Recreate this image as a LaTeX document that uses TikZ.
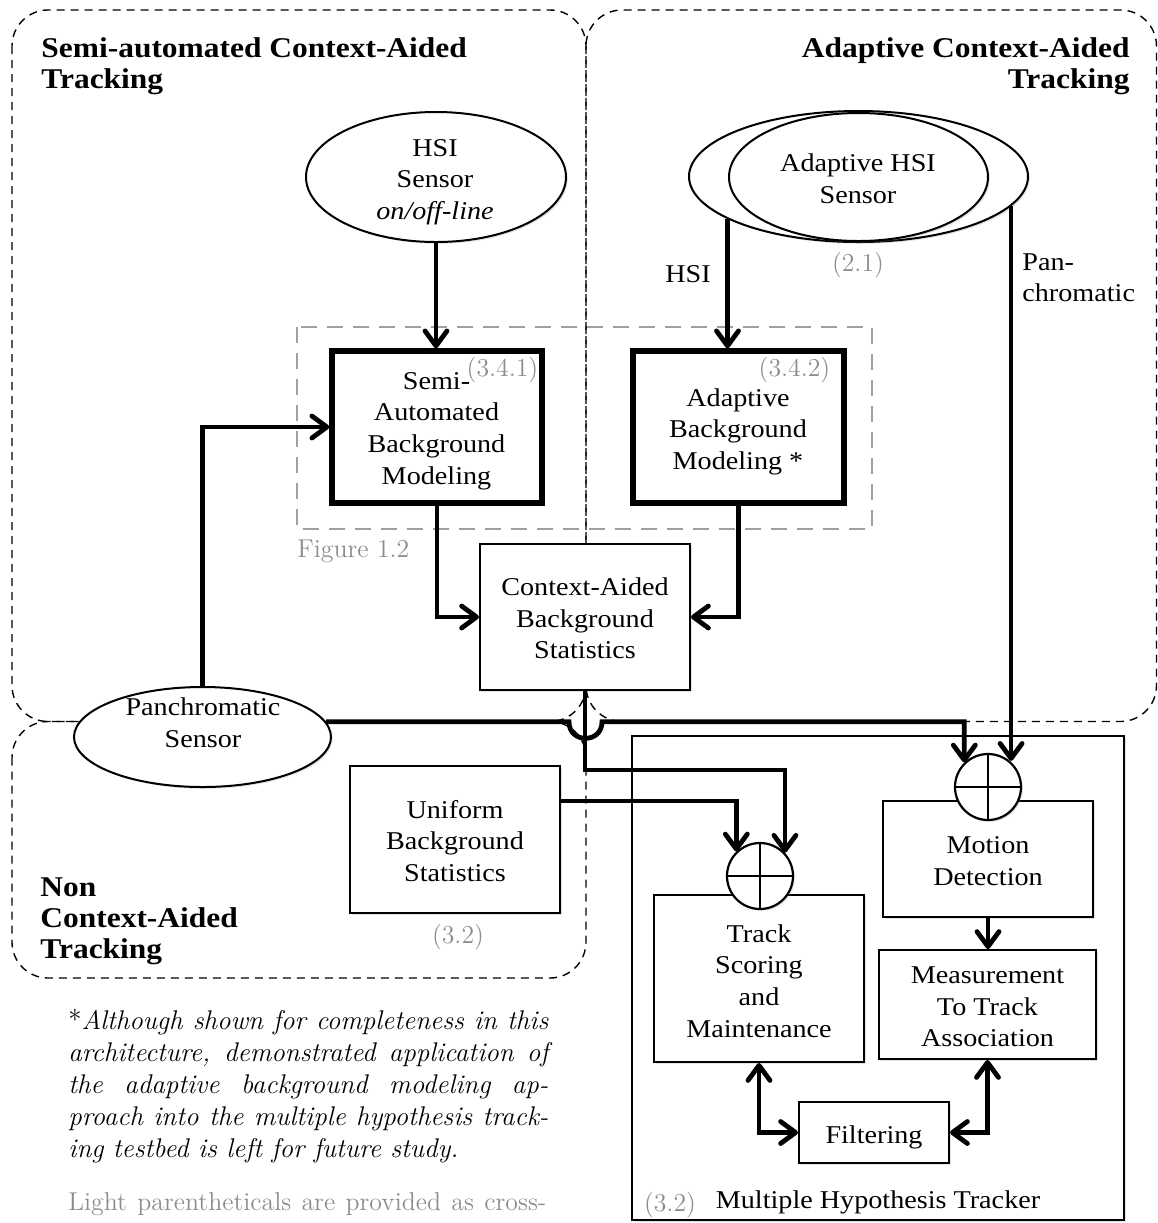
\documentclass[tikz,border=0pt]{standalone}
\usepackage{fontspec}
\newfontfamily\gf{Liberation Serif}[FakeStretch=1.1]
\usetikzlibrary{arrows.meta,shapes.geometric,shadows}
\definecolor{lg}{RGB}{140,140,140}
\definecolor{fg}{RGB}{160,160,160}
\begin{document}
\begin{tikzpicture}[x=0.5pt,y=-0.5pt,
  region/.style={draw, dash pattern=on 4pt off 3pt, line width=0.7pt, rounded corners=18pt},
  figrect/.style={draw=fg, dash pattern=on 8pt off 5pt, line width=0.6pt},
  shad/.style={drop shadow={opacity=0.22,shadow xshift=0.9pt,shadow yshift=-0.9pt}},
  boxn/.style={draw, fill=white, rectangle, line width=1pt, inner sep=0pt, shad},
  thickbox/.style={boxn, line width=2.7pt},
  ell/.style={draw, fill=white, ellipse, line width=1pt, inner sep=0pt, shad},
  sumc/.style={draw, fill=white, circle, line width=1.1pt, inner sep=0pt, minimum size=33pt, shad},
  arr/.style={line width=2.4pt, -{Straight Barb[length=7.5pt,width=11pt,round]}},
  darr/.style={line width=2.4pt, {Straight Barb[length=7.5pt,width=11pt,round]}-{Straight Barb[length=7.5pt,width=11pt,round]}},
  txt/.style={font=\gf\fontsize{12.8}{15.8}\selectfont, align=center, inner sep=0pt},
  ttl/.style={font=\gf\bfseries\fontsize{14.3}{15.6}\selectfont, inner sep=0pt},
  glab/.style={font=\fontsize{12.9}{15}\selectfont, text=lg, inner sep=0pt},
  fnote/.style={font=\itshape\fontsize{13.5}{16}\selectfont, inner sep=0pt, anchor=base west}
]
\useasboundingbox (0,0) rectangle (1158,1223);

% regions
\draw[region] (12,10) rectangle (586,721.5);
\draw[region] (586,10) rectangle (1156.5,721.5);
\draw[region] (12,721.5) rectangle (586,978);
\draw[figrect] (297,327) rectangle (872,529);

% titles
\node[ttl, align=left, anchor=north west] (t1) at (41,37.5) {Semi-automated Context-Aided\\Tracking};
\node[ttl, align=right, anchor=north east] (t2) at (1130,37.5) {Adaptive Context-Aided\\Tracking};
\node[ttl, align=left, anchor=north west] (t3) at (40,877) {Non\\Context-Aided\\Tracking};

% MHT container
\node[boxn, line width=0.7pt, minimum width=246pt, minimum height=242pt] (mht) at (878,978) {};

% ellipses
\node[ell, minimum width=130pt, minimum height=65pt] (hsi) at (436,177) {};
\node[ell, minimum width=169.5pt, minimum height=65.5pt] (aho) at (858.5,176.5) {};
\node[ell, minimum width=129.5pt, minimum height=64pt] (ahi) at (858.5,177) {};
\node[ell, minimum width=128.5pt, minimum height=50pt] (pan) at (202.5,737) {};

% boxes
\node[thickbox, minimum width=105pt, minimum height=76pt] (semi) at (437,427) {};
\node[thickbox, minimum width=105.5pt, minimum height=76pt] (adapt) at (738.5,427) {};
\node[boxn, minimum width=105pt, minimum height=73pt] (ctx) at (585,617) {};
\node[boxn, minimum width=105pt, minimum height=73.5pt] (unif) at (455,839.5) {};
\node[boxn, minimum width=105pt, minimum height=58pt] (motion) at (988,859) {};
\node[boxn, minimum width=105pt, minimum height=83.5pt] (track) at (759,978.5) {};
\node[boxn, minimum width=108.5pt, minimum height=54.5pt] (meas) at (987.5,1004.5) {};
\node[boxn, minimum width=75pt, minimum height=30.5pt] (filt) at (874,1132.5) {};

% summing circles
\node[sumc] (mc) at (988,787) {};
\node[sumc] (tc) at (760,876) {};
\draw[line width=1pt] (mc.north) -- (mc.south) (mc.west) -- (mc.east);
\draw[line width=1pt] (tc.north) -- (tc.south) (tc.west) -- (tc.east);

% helper coordinates
\coordinate (k770) at (0,770);
\coordinate (k801) at (0,801);
\coordinate (jl) at (569,0);
\coordinate (jr) at (602,0);

% connectors
\draw[arr] (hsi.south) -- (hsi.south |- semi.north);
\draw[arr] (aho.198) -- (aho.198 |- adapt.north);
\draw[arr] (aho.-11.7) -- (aho.-11.7 |- mc.50);
\draw[arr] (pan.north) |- (semi.west);
\draw[arr] (semi.south) |- (ctx.west);
\draw[arr] (adapt.south) |- (ctx.east);
\draw[arr] (pan.7) -- (pan.7 -| jl) .. controls +(0,22) and +(0,22) .. (pan.7 -| jr) -| (mc.134);
\draw[arr] (ctx.south) -- (ctx.south |- k770) -| (tc.43);
\draw[arr] (unif.east |- k801) -| (tc.134);
\draw[arr] (motion.south) -- (motion.south |- meas.north);
\draw[darr] (track.south) |- (filt.west);
\draw[darr] (meas.south) |- (filt.east);

% texts
\node[txt] (hsit) at (435,182) {HSI\\Sensor\\\textit{on/off-line}};
\node[txt] (ahst) at (858,179) {Adaptive HSI\\Sensor};
\node[txt] (pant) at (203,722.5) {Panchromatic\\Sensor};
\node[txt] (semit) at (436.5,431) {Semi-\\Automated\\Background\\Modeling};
\node[txt] (adaptt) at (738,431.5) {Adaptive\\Background\\Modeling *};
\node[txt] (ctxt) at (585,618.5) {Context-Aided\\Background\\Statistics};
\node[txt] (uniftxt) at (455,841) {Uniform\\Background\\Statistics};
\node[txt] (motiont) at (988,861) {Motion\\Detection};
\node[txt] (trackt) at (759,981) {Track\\Scoring\\and\\Maintenance};
\node[txt] (meast) at (987.5,1007) {Measurement\\To Track\\Association};
\node[txt, anchor=base] (filtt) at (874,1143) {Filtering};
\node[txt, anchor=base] (hsil) at (688,282) {HSI};
\node[txt, align=left, anchor=north west] (panl) at (1022,253) {Pan-\\chromatic};
\node[txt, anchor=base] (mhtl) at (878,1208) {Multiple Hypothesis Tracker};

% gray cross references
\node[glab, anchor=base] (g341) at (502.5,376) {(3.4.1)};
\node[glab, anchor=base] (g342) at (794.5,376) {(3.4.2)};
\node[glab, anchor=base] (g21) at (858,271) {(2.1)};
\node[glab, anchor=base west] (gfig) at (297,557) {Figure 1.2};
\node[glab, anchor=base] (g32a) at (458,943) {(3.2)};
\node[glab, anchor=base] (g32b) at (670,1211.5) {(3.2)};

% footnote
\node[fnote] (fn1) at (68,1029) {\makebox[240pt][s]{\textup{*}Although shown for completeness in this}};
\node[fnote] (fn2) at (68,1061) {\makebox[240pt][s]{architecture, demonstrated application of}};
\node[fnote] (fn3) at (68,1093) {\makebox[240pt][s]{the adaptive background modeling ap-}};
\node[fnote] (fn4) at (68,1125) {\makebox[240pt][s]{proach into the multiple hypothesis track-}};
\node[fnote] (fn5) at (68,1157) {ing testbed is left for future study.};
\node[glab, anchor=base west] (light) at (68,1210) {\makebox[239pt][s]{Light parentheticals are provided as cross-}};
\end{tikzpicture}
\end{document}
